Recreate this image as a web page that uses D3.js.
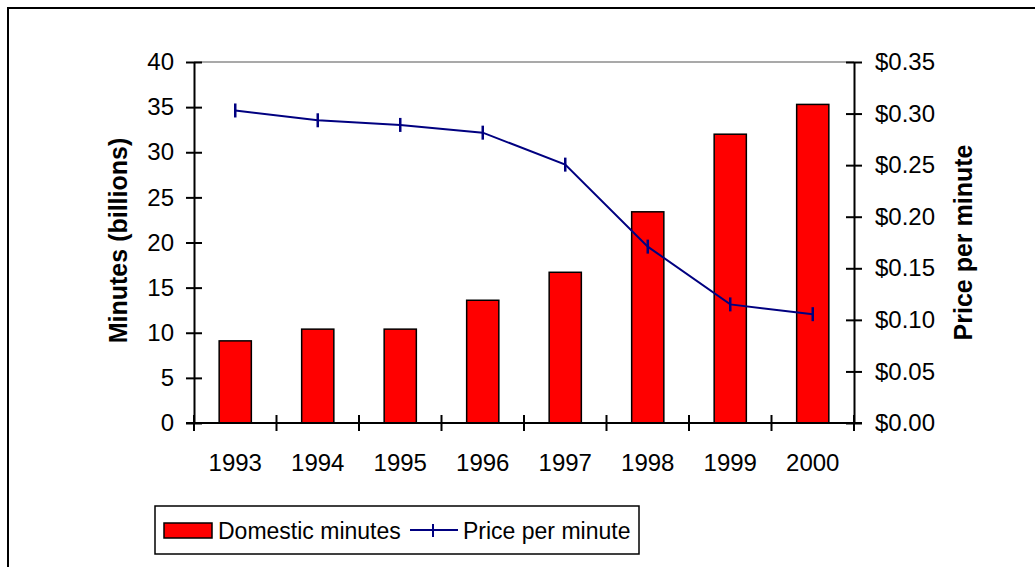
<!DOCTYPE html>
<html>
<head>
<meta charset="utf-8">
<script src="https://cdn.jsdelivr.net/npm/d3@7"></script>
<style>
  html, body { margin: 0; padding: 0; background: #fff; }
  svg { display: block; font-family: "Liberation Sans", Arial, sans-serif; }
</style>
</head>
<body>
<svg id="chart" width="1035" height="567"></svg>
<script>
const years = ["1993", "1994", "1995", "1996", "1997", "1998", "1999", "2000"];
const domesticMinutes = [9.1, 10.4, 10.4, 13.6, 16.7, 23.4, 32.0, 35.3];
const pricePerMinute = [0.303, 0.2935, 0.289, 0.2815, 0.2505, 0.171, 0.115, 0.1055];
const leftTicks = [0, 5, 10, 15, 20, 25, 30, 35, 40];
const rightTicks = [0, 0.05, 0.10, 0.15, 0.20, 0.25, 0.30, 0.35];
const seriesNames = ["Domestic minutes", "Price per minute"];
const axisTitles = ["Minutes (billions)", "Price per minute"];

const svg = d3.select("#chart");
const plot = { left: 194, right: 854, top: 62, bottom: 423 };

// outer frame (extends past the image edges)
svg.append("rect").attr("x", 8).attr("y", 8).attr("width", 1040).attr("height", 580)
  .attr("fill", "none").attr("stroke", "#000").attr("stroke-width", 2);

const x = d3.scaleBand().domain(years).range([plot.left, plot.right]).paddingInner(0.61).paddingOuter(0.305);
const xEdge = d3.scaleLinear().domain([0, years.length]).range([plot.left, plot.right]);
const yL = d3.scaleLinear().domain([0, 40]).range([plot.bottom, plot.top]);
const yR = d3.scaleLinear().domain([0, 0.35]).range([plot.bottom, plot.top]);

// plot area top border (gray)
svg.append("line").attr("x1", plot.left).attr("x2", plot.right).attr("y1", plot.top).attr("y2", plot.top)
  .attr("stroke", "#8c8c8c").attr("stroke-width", 1.5);

// bars
svg.append("g").selectAll("rect").data(domesticMinutes).join("rect")
  .attr("x", (d, i) => x(years[i]))
  .attr("width", x.bandwidth())
  .attr("y", d => yL(d))
  .attr("height", d => yL(0) - yL(d))
  .attr("fill", "#ff0000").attr("stroke", "#000").attr("stroke-width", 1.5);

// left axis
const fs = 24;
const gL = svg.append("g").attr("transform", `translate(${plot.left},0)`)
  .call(d3.axisLeft(yL).tickValues(leftTicks).tickSize(0).tickPadding(20));
gL.select(".domain").attr("stroke", "#000").attr("stroke-width", 2);
gL.selectAll(".tick text").attr("font-size", fs).attr("fill", "#000").attr("font-family", "Liberation Sans, Arial, sans-serif");
gL.selectAll(".tick").append("line").attr("x1", -8).attr("x2", 8).attr("stroke", "#000").attr("stroke-width", 2);

// right axis
const gR = svg.append("g").attr("transform", `translate(${plot.right},0)`)
  .call(d3.axisRight(yR).tickValues(rightTicks).tickSize(0).tickPadding(21).tickFormat(d3.format("$.2f")));
gR.select(".domain").attr("stroke", "#000").attr("stroke-width", 2);
gR.selectAll(".tick text").attr("font-size", fs).attr("fill", "#000").attr("font-family", "Liberation Sans, Arial, sans-serif");
gR.selectAll(".tick").append("line").attr("x1", -8).attr("x2", 8).attr("stroke", "#000").attr("stroke-width", 2);

// bottom axis
svg.append("line").attr("x1", plot.left - 8).attr("x2", plot.right + 8).attr("y1", plot.bottom).attr("y2", plot.bottom)
  .attr("stroke", "#000").attr("stroke-width", 2);
svg.append("g").selectAll("line").data(d3.range(years.length + 1)).join("line")
  .attr("x1", d => xEdge(d)).attr("x2", d => xEdge(d))
  .attr("y1", plot.bottom - 8).attr("y2", plot.bottom + 8)
  .attr("stroke", "#000").attr("stroke-width", 2);
svg.append("g").selectAll("text").data(years).join("text")
  .attr("x", d => x(d) + x.bandwidth() / 2).attr("y", 471)
  .attr("text-anchor", "middle").attr("font-size", fs).attr("fill", "#000").text(d => d);

// line series
const lineGen = d3.line().x((d, i) => x(years[i]) + x.bandwidth() / 2).y(d => yR(d));
svg.append("path").datum(pricePerMinute).attr("d", lineGen)
  .attr("fill", "none").attr("stroke", "#000080").attr("stroke-width", 2);
svg.append("g").selectAll("line").data(pricePerMinute).join("line")
  .attr("x1", (d, i) => x(years[i]) + x.bandwidth() / 2).attr("x2", (d, i) => x(years[i]) + x.bandwidth() / 2)
  .attr("y1", d => yR(d) - 7).attr("y2", d => yR(d) + 7)
  .attr("stroke", "#000080").attr("stroke-width", 2.5);

// axis titles
svg.append("text").attr("transform", `translate(127,${(plot.top + plot.bottom) / 2 - 2}) rotate(-90)`)
  .attr("text-anchor", "middle").attr("font-size", 25).attr("font-weight", "bold").text(axisTitles[0]);
svg.append("text").attr("transform", `translate(972,${(plot.top + plot.bottom) / 2}) rotate(-90)`)
  .attr("text-anchor", "middle").attr("font-size", 25).attr("font-weight", "bold").text(axisTitles[1]);

// legend
const lg = svg.append("g");
lg.append("rect").attr("x", 155).attr("y", 506).attr("width", 484).attr("height", 48)
  .attr("fill", "#fff").attr("stroke", "#000").attr("stroke-width", 1.5);
lg.append("rect").attr("x", 164).attr("y", 523).attr("width", 48).attr("height", 15)
  .attr("fill", "#ff0000").attr("stroke", "#000").attr("stroke-width", 1.5);
lg.append("text").attr("x", 218).attr("y", 539).attr("font-size", 23).text(seriesNames[0]);
lg.append("line").attr("x1", 410).attr("x2", 458).attr("y1", 530).attr("y2", 530)
  .attr("stroke", "#000080").attr("stroke-width", 2);
lg.append("line").attr("x1", 433).attr("x2", 433).attr("y1", 524).attr("y2", 537)
  .attr("stroke", "#000080").attr("stroke-width", 2);
lg.append("text").attr("x", 463).attr("y", 539).attr("font-size", 23).text(seriesNames[1]);
</script>
</body>
</html>
